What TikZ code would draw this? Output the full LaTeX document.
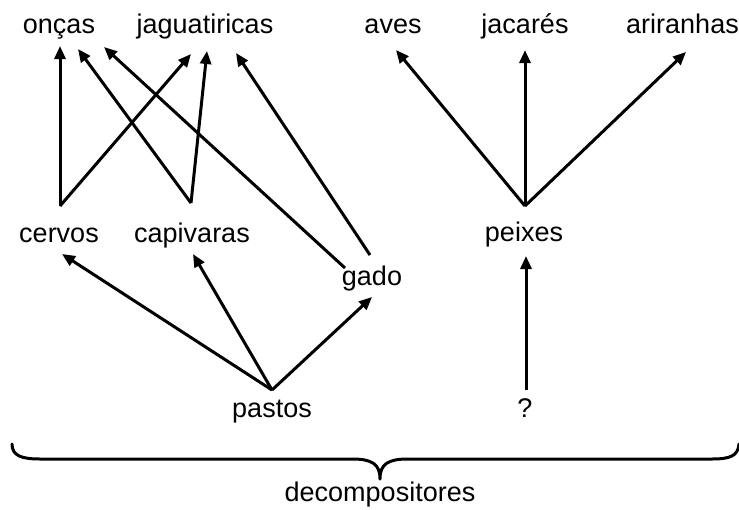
\documentclass[tikz,border=0pt]{standalone}
\usepackage{fontspec}
\setmainfont{Liberation Sans}
\usetikzlibrary{arrows.meta}
\begin{document}
\begin{tikzpicture}[x=1pt,y=-1pt,
  lbl/.style={inner sep=0pt, anchor=base, font=\fontsize{27}{32}\selectfont},
  arr/.style={line width=3pt, -{Triangle[length=13pt,width=11pt]}},
  bracestyle/.style={line width=3pt}]
\useasboundingbox (0,0) rectangle (739,509);
% labels
\node[lbl] (oncas) at (59,33) {onças};
\node[lbl] (jag) at (205,33) {jaguatiricas};
\node[lbl] (aves) at (393,33) {aves};
\node[lbl] (jac) at (525,33) {jacarés};
\node[lbl] (ari) at (682.5,33) {ariranhas};
\node[lbl] (cervos) at (59,242) {cervos};
\node[lbl] (capi) at (192,242) {capivaras};
\node[lbl] (gado) at (372,285) {gado};
\node[lbl] (peixes) at (524,241) {peixes};
\node[lbl] (pastos) at (272,417) {pastos};
\node[lbl] (q) at (525,417) {?};
\node[lbl] (dec) at (380,501) {decompositores};
% anchor points
\coordinate (cervosT) at (60,206);
\coordinate (capiT) at (191,203);
\coordinate (gadoL) at (345,268);
\coordinate (gadoT) at (370,255);
\coordinate (peixesT) at (525,206);
\coordinate (peixesB) at (526,256);
\coordinate (pastosT) at (272,390);
\coordinate (qT) at (526,390);
\coordinate (oncasA) at (60,46);
\coordinate (oncasB) at (78,49);
\coordinate (oncasC) at (104,47);
\coordinate (jagA) at (191,54);
\coordinate (jagB) at (207,51);
\coordinate (jagC) at (236,53);
\coordinate (avesA) at (396,50);
\coordinate (jacA) at (525,50);
\coordinate (ariA) at (686,52);
\coordinate (cervosB) at (62,254);
\coordinate (capiB) at (193,254);
\coordinate (gadoB) at (372,297);
% connectors
\draw[arr] (cervosT) -- (oncasA);
\draw[arr] (capiT) -- (oncasB);
\draw[arr] (gadoL) -- (oncasC);
\draw[arr] (cervosT) -- (jagA);
\draw[arr] (capiT) -- (jagB);
\draw[arr] (gadoT) -- (jagC);
\draw[arr] (peixesT) -- (avesA);
\draw[arr] (peixesT) -- (jacA);
\draw[arr] (peixesT) -- (ariA);
\draw[arr] (pastosT) -- (cervosB);
\draw[arr] (pastosT) -- (capiB);
\draw[arr] (pastosT) -- (gadoB);
\draw[arr] (qT) -- (peixesB);
% brace
\draw[bracestyle, line cap=round, line join=round]
  (12,444) .. controls (12,456) and (22,459) .. (40,459)
  -- (352,459) .. controls (372,459) and (380,464) .. (380,479)
  .. controls (380,464) and (388,459) .. (408,459)
  -- (712,459) .. controls (730,459) and (738,456) .. (739,444);
\end{tikzpicture}
\end{document}
